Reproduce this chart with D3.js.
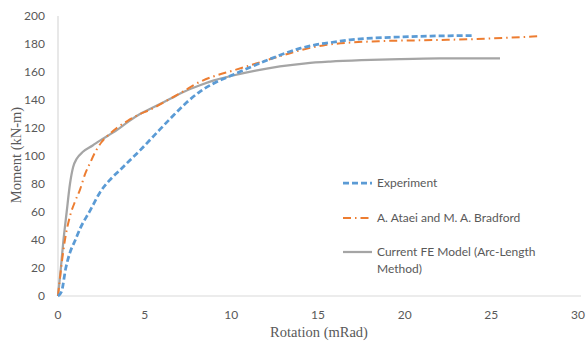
<!DOCTYPE html>
<html><head><meta charset="utf-8">
<script src="https://cdn.jsdelivr.net/npm/d3@7"></script>
<style>body{margin:0;background:#fff;}svg{display:block;}</style>
</head><body>
<script>
const xTicks = [0,5,10,15,20,25,30];
const yTicks = [0,20,40,60,80,100,120,140,160,180,200];
const seriesNames = ["Experiment","A. Ataei and M. A. Bradford","Current FE Model (Arc-Length Method)"];
const experiment = [[0,0],[0.2,3],[0.45,20],[0.69,31],[1.0,40],[1.27,48],[1.85,61],[2.42,74],[3.0,83],[3.58,90],[4.15,97],[4.73,104],[5.5,114],[6.5,127],[7.4,138],[8.19,146],[9.0,152],[10.1,158],[11.4,165],[12.8,172],[14.0,177],[14.9,179.5],[16.0,181.5],[16.85,183],[18.3,184.3],[19.7,185],[21.5,185.7],[23.9,186]];
const ataei = [[0,0],[0.2,22],[0.4,40],[0.69,57],[1.0,68],[1.27,76],[1.56,87],[1.85,95],[2.2,104],[2.52,110],[3.0,116],[3.39,120],[4.0,125],[4.73,130],[5.3,133],[6.2,139],[7.2,146],[8.19,153],[9.0,157],[10.1,161],[11.66,167],[13.0,172],[13.96,175.5],[15.3,179],[16.85,181],[18.5,182],[21.6,182.8],[24.0,183.5],[26.0,184.5],[27.7,185.5]];
const fem = [[0,0],[0.15,18],[0.3,38],[0.5,60],[0.69,80],[0.87,92],[1.08,98],[1.44,103],[2.0,107.5],[2.42,111],[3.39,118.5],[4.0,124],[4.73,130],[5.3,133.5],[6.5,141],[7.3,146],[8.19,150.5],[9.0,154],[10.1,157.5],[11.4,161],[12.8,164],[14.3,166.2],[15.7,167.4],[17.5,168.4],[19.7,169.2],[22.0,169.7],[25.5,169.8]];

const W=588,H=343;
const svg=d3.select("body").append("svg").attr("width",W).attr("height",H);
const x=d3.scaleLinear().domain([0,30]).range([58,578]);
const y=d3.scaleLinear().domain([0,200]).range([296,16]);
const tickColor="#595959", axisColor="#d9d9d9";
const sans="Lato, 'Open Sans', sans-serif";

svg.append("line").attr("x1",x(0)).attr("x2",581).attr("y1",y(0)).attr("y2",y(0)).attr("stroke",axisColor).attr("stroke-width",1.2);
svg.append("line").attr("x1",x(0)).attr("x2",x(0)).attr("y1",y(0)).attr("y2",y(200)).attr("stroke",axisColor).attr("stroke-width",1.2);

svg.selectAll(".yt").data(yTicks).enter().append("text")
  .attr("x",45).attr("y",d=>y(d)).attr("dy","0.35em").attr("text-anchor","end")
  .attr("font-family",sans).attr("font-size",12).attr("fill",tickColor).text(d=>d);
svg.selectAll(".xt").data(xTicks).enter().append("text")
  .attr("x",d=>x(d)).attr("y",315).attr("dy","0.35em").attr("text-anchor","middle")
  .attr("font-family",sans).attr("font-size",12).attr("fill",tickColor).text(d=>d);

svg.append("text").attr("x",319).attr("y",332).attr("dy","0.35em").attr("text-anchor","middle")
  .attr("font-family","'Liberation Serif', serif").attr("font-size",14.5).attr("fill",tickColor).text("Rotation (mRad)");
svg.append("text").attr("transform","translate(16,155) rotate(-90)").attr("dy","0.35em").attr("text-anchor","middle")
  .attr("font-family","'Liberation Serif', serif").attr("font-size",14.5).attr("fill",tickColor).text("Moment (kN-m)");

const line=d3.line().x(d=>x(d[0])).y(d=>y(d[1])).curve(d3.curveMonotoneX);
const styles=[
  {data:experiment,color:"#5b9bd5",w:2.75,dash:"6,3"},
  {data:ataei,color:"#ed7d31",w:2,dash:"8,4,1.5,4"},
  {data:fem,color:"#a5a5a5",w:2.25,dash:null}
];
[2,1,0].forEach(i=>{
  const s=styles[i];
  svg.append("path").attr("d",line(s.data)).attr("fill","none").attr("stroke",s.color)
    .attr("stroke-width",s.w).attr("stroke-dasharray",s.dash);
});

const legY=[183,218,252];
styles.forEach((s,i)=>{
  svg.append("line").attr("x1",343).attr("x2",372).attr("y1",legY[i]).attr("y2",legY[i])
    .attr("stroke",s.color).attr("stroke-width",s.w).attr("stroke-dasharray",s.dash);
});
const lt=(t,yy)=>svg.append("text").attr("x",377).attr("y",yy).attr("dy","0.35em")
  .attr("font-family",sans).attr("font-size",12).attr("fill",tickColor).text(t);
lt(seriesNames[0],183);
lt(seriesNames[1],218);
lt("Current FE Model (Arc-Length",252);
lt("Method)",269);
</script>
</body></html>
